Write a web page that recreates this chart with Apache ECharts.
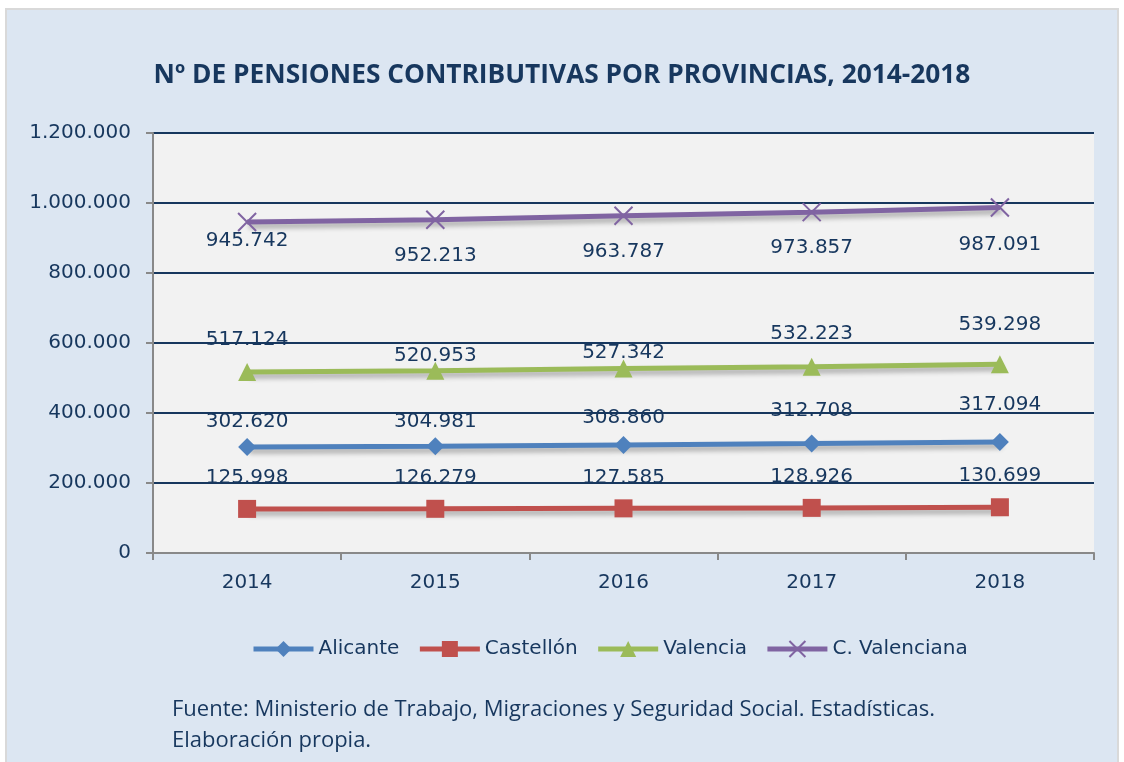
<!DOCTYPE html>
<html>
<head>
<meta charset="utf-8">
<title>Nº de pensiones contributivas por provincias</title>
<script src="https://cdn.jsdelivr.net/npm/echarts@6/dist/echarts.min.js"></script>
<style>
  html, body { margin: 0; padding: 0; background: #ffffff; }
  #chart { width: 1124px; height: 762px; }
</style>
</head>
<body>
<div id="chart"></div>
<script>
// datos
const years = ['2014', '2015', '2016', '2017', '2018'];
const alicante = [302620, 304981, 308860, 312708, 317094];
const castellon = [125998, 126279, 127585, 128926, 130699];
const valencia = [517124, 520953, 527342, 532223, 539298];
const cValenciana = [945742, 952213, 963787, 973857, 987091];
const seriesNames = ['Alicante', 'Castellón', 'Valencia', 'C. Valenciana'];

const navy = '#17375e';
const fmt = v => String(v).replace(/\B(?=(\d{3})+(?!\d))/g, '.');

// desplazamiento vertical de las etiquetas (como en la hoja original)
const labelShift = [
    [-25, -24, -27, -33, -37],
    [-31, -31, -31, -31, -31],
    [-32, -15, -16, -33, -39],
    [19, 36, 36, 36, 37]
];

function makeSeries (name, values, color, symbol, size, idx) {
    return {
        name: name,
        type: 'line',
        data: values.map((v, i) => ({
            value: v,
            label: { offset: [0, labelShift[idx][i]] }
        })),
        symbol: symbol,
        symbolSize: size,
        lineStyle: {
            color: color,
            width: 5,
            shadowColor: 'rgba(0, 0, 0, 0.3)',
            shadowBlur: 5,
            shadowOffsetX: 2,
            shadowOffsetY: 4
        },
        itemStyle: {
            color: color,
            borderColor: color,
            borderWidth: symbol.indexOf('path') === 0 ? 2 : 0
        },
        label: {
            show: true,
            position: 'inside',
            formatter: p => fmt(p.value),
            color: navy,
            fontFamily: 'DejaVu Sans',
            fontSize: 20
        },
        emphasis: { disabled: true },
        z: 3
    };
}

let chart = echarts.init(document.getElementById('chart'));
chart.setOption({
    backgroundColor: '#ffffff',
    animation: false,
    title: {
        text: 'Nº DE PENSIONES CONTRIBUTIVAS POR PROVINCIAS, 2014-2018',
        left: 'center',
        top: 58,
        textStyle: {
            color: navy,
            fontFamily: 'Open Sans',
            fontWeight: 'bold',
            fontSize: 26.3
        }
    },
    graphic: [
        {
            type: 'rect',
            z: -10,
            shape: { x: 6, y: 9, width: 1112, height: 760 },
            style: { fill: '#dce6f2', stroke: '#d9d9d9', lineWidth: 2 }
        },
        {
            type: 'text',
            left: 172,
            top: 694,
            style: {
                text: 'Fuente: Ministerio de Trabajo, Migraciones y Seguridad Social. Estadísticas.\nElaboración propia.',
                fill: navy,
                font: '22px "Open Sans"',
                lineHeight: 31
            }
        }
    ],
    legend: {
        data: seriesNames,
        left: 246,
        top: 634,
        itemWidth: 60,
        itemHeight: 20,
        itemGap: 18,
        lineStyle: { width: 5 },
        textStyle: { color: navy, fontFamily: 'DejaVu Sans', fontSize: 20 }
    },
    grid: {
        left: 153,
        right: 30,
        top: 133,
        bottom: 209,
        show: true,
        backgroundColor: '#f2f2f2',
        borderWidth: 0
    },
    xAxis: {
        type: 'category',
        data: years,
        boundaryGap: true,
        axisLine: { lineStyle: { color: '#898989', width: 2 } },
        axisTick: { show: true, length: 7, lineStyle: { color: '#898989', width: 2 } },
        axisLabel: {
            margin: 20,
            color: navy,
            fontFamily: 'DejaVu Sans',
            fontSize: 20
        }
    },
    yAxis: {
        type: 'value',
        min: 0,
        max: 1200000,
        interval: 200000,
        axisLine: { show: true, lineStyle: { color: '#898989', width: 2 } },
        axisTick: { show: true, length: 7, lineStyle: { color: '#898989', width: 2 } },
        axisLabel: {
            margin: 22,
            color: navy,
            fontFamily: 'DejaVu Sans',
            fontSize: 20,
            formatter: v => fmt(v)
        },
        splitLine: { lineStyle: { color: navy, width: 2 } }
    },
    series: [
        makeSeries('Alicante', alicante, '#4f81bd', 'diamond', 18, 0),
        makeSeries('Castellón', castellon, '#c0504d', 'rect', 18, 1),
        makeSeries('Valencia', valencia, '#9bbb59', 'triangle', 18, 2),
        makeSeries('C. Valenciana', cValenciana, '#8064a2', 'path://M0,0L20,20M20,0L0,20', 18, 3)
    ]
});
</script>
</body>
</html>
